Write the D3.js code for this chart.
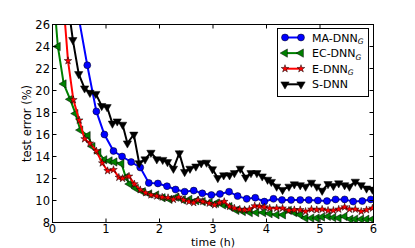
<!DOCTYPE html>
<html>
<head>
<meta charset="utf-8">
<script src="https://cdn.jsdelivr.net/npm/d3@7"></script>
<style>
  body { margin: 0; background: #fff; }
  text { font-family: "DejaVu Sans", sans-serif; }
</style>
</head>
<body>
<div id="chart"></div>
<script>
// datos (tiempo en horas, error en %)
const maT = [0.48, 0.65, 0.82, 0.97, 1.14, 1.30, 1.47, 1.64, 1.80, 1.97, 2.14, 2.30, 2.47, 2.64, 2.80, 2.97, 3.13, 3.30, 3.46, 3.63, 3.79, 3.96, 4.13, 4.29, 4.46, 4.63, 4.79, 4.96, 5.13, 5.29, 5.46, 5.62, 5.79, 5.95];
const maV = [26.9, 22.3, 18.1, 16.0, 14.5, 14.0, 13.5, 13.0, 11.6, 11.55, 11.3, 11.0, 10.8, 10.9, 10.65, 10.5, 10.6, 10.8, 10.4, 10.15, 10.25, 9.9, 10.15, 10.05, 10.05, 10.05, 10.05, 10.0, 9.95, 10.1, 10.1, 9.9, 9.95, 10.1];

const ecT = [0.05, 0.10, 0.21, 0.33, 0.43, 0.52, 0.66, 0.75, 0.86, 0.97, 1.07, 1.16, 1.29, 1.37, 1.44, 1.56, 1.69, 1.81, 1.94, 2.06, 2.19, 2.31, 2.44, 2.56, 2.69, 2.81, 2.94, 3.06, 3.19, 3.31, 3.44, 3.56, 3.69, 3.81, 3.94, 4.06, 4.19, 4.31, 4.42, 4.52, 4.63, 4.73, 4.84, 4.94, 5.04, 5.15, 5.25, 5.35, 5.46, 5.57, 5.66, 5.77, 5.87, 5.98];
const ecV = [27.0, 24.0, 20.6, 19.2, 17.9, 16.4, 15.9, 14.9, 14.35, 13.7, 13.6, 13.5, 13.35, 12.1, 11.5, 11.1, 10.8, 10.6, 10.5, 10.25, 10.1, 10.3, 10.05, 10.1, 9.98, 9.9, 9.8, 9.75, 9.6, 9.45, 9.1, 9.0, 8.9, 8.9, 8.9, 8.8, 8.7, 8.7, 9.1, 8.9, 8.7, 8.4, 8.4, 8.4, 8.5, 8.55, 8.45, 8.4, 8.55, 8.3, 8.3, 8.3, 8.3, 8.3];

const eT = [0.22, 0.29, 0.39, 0.50, 0.60, 0.70, 0.82, 0.93, 1.03, 1.14, 1.24, 1.31, 1.43, 1.53, 1.64, 1.74, 1.84, 1.95, 2.05, 2.16, 2.26, 2.36, 2.45, 2.55, 2.64, 2.72, 2.81, 2.93, 3.03, 3.12, 3.21, 3.31, 3.40, 3.50, 3.59, 3.68, 3.78, 3.87, 3.96, 4.06, 4.19, 4.30, 4.42, 4.52, 4.63, 4.73, 4.84, 4.94, 5.04, 5.15, 5.25, 5.35, 5.46, 5.55, 5.66, 5.77, 5.87, 5.98];
const eV = [27.0, 22.7, 19.15, 17.3, 15.6, 15.2, 14.5, 13.4, 12.7, 12.8, 12.1, 12.0, 12.2, 11.5, 10.97, 10.7, 10.5, 10.4, 10.3, 10.25, 10.1, 10.3, 10.05, 9.9, 9.8, 10.05, 9.9, 9.75, 9.6, 9.8, 9.9, 9.45, 9.3, 9.2, 9.15, 9.2, 9.5, 9.45, 9.4, 9.3, 9.3, 9.3, 9.1, 9.15, 9.15, 9.0, 9.2, 9.15, 9.2, 9.1, 9.1, 9.2, 9.4, 9.2, 9.2, 9.0, 9.15, 9.3];

const sT = [0.30, 0.38, 0.49, 0.60, 0.70, 0.81, 0.92, 1.02, 1.12, 1.21, 1.31, 1.40, 1.52, 1.62, 1.73, 1.84, 1.95, 2.06, 2.15, 2.26, 2.37, 2.47, 2.57, 2.68, 2.78, 2.88, 2.99, 3.09, 3.20, 3.31, 3.40, 3.51, 3.61, 3.71, 3.82, 3.92, 4.02, 4.09, 4.19, 4.30, 4.42, 4.52, 4.63, 4.73, 4.84, 4.94, 5.04, 5.15, 5.25, 5.35, 5.46, 5.55, 5.66, 5.77, 5.87, 5.98];
const sV = [27.5, 24.6, 21.5, 20.2, 19.8, 19.7, 18.6, 18.5, 17.0, 17.2, 16.9, 15.2, 16.0, 13.4, 13.75, 14.35, 13.75, 13.7, 13.5, 12.9, 14.3, 12.6, 12.9, 13.1, 13.4, 13.45, 12.85, 12.05, 12.3, 12.3, 12.5, 12.9, 12.1, 12.5, 12.5, 12.2, 11.9, 11.7, 11.27, 10.97, 11.27, 11.48, 11.4, 11.27, 11.63, 11.27, 10.9, 11.5, 11.33, 11.57, 11.4, 11.27, 11.72, 11.4, 11.1, 11.0];

const xTicks = [0, 1, 2, 3, 4, 5, 6];
const yTicks = [8, 10, 12, 14, 16, 18, 20, 22, 24, 26];

const series = [
  { name: "MA-DNN", sub: "G", t: maT, v: maV, color: "#0000ff", shape: "circle" },
  { name: "EC-DNN", sub: "G", t: ecT, v: ecV, color: "#008000", shape: "left" },
  { name: "E-DNN", sub: "G", t: eT, v: eV, color: "#ff0000", shape: "star" },
  { name: "S-DNN", sub: "", t: sT, v: sV, color: "#000000", shape: "down" }
];

const width = 415, height = 248;
const pLeft = 52.5, pRight = 373.5, pTop = 24.5, pBottom = 222.5;

const svg = d3.select("#chart").append("svg")
  .attr("width", width)
  .attr("height", height);

const x = d3.scaleLinear().domain([0, 6]).range([pLeft, pRight]);
const y = d3.scaleLinear().domain([8, 26]).range([pBottom, pTop]);

svg.append("clipPath").attr("id", "clip")
  .append("rect")
  .attr("x", pLeft).attr("y", pTop)
  .attr("width", pRight - pLeft).attr("height", pBottom - pTop);

// simbolos de cada serie
function markerPath(shape) {
  if (shape === "circle") return d3.symbol(d3.symbolCircle, 38)();
  if (shape === "star") return d3.symbol(d3.symbolStar, 18)();
  return d3.symbol(d3.symbolTriangle, 30)();
}
function markerRot(shape) {
  if (shape === "left") return -90;
  if (shape === "down") return 180;
  return 0;
}

const plot = svg.append("g").attr("clip-path", "url(#clip)");

const line = d3.line().x(d => x(d[0])).y(d => y(d[1]));

series.forEach(s => {
  const pts = s.t.map((t, i) => [t, s.v[i]]);
  plot.append("path")
    .datum(pts)
    .attr("fill", "none")
    .attr("stroke", s.color)
    .attr("stroke-width", 2)
    .attr("d", line);
  plot.selectAll(null)
    .data(pts)
    .enter()
    .append("path")
    .attr("d", markerPath(s.shape))
    .attr("transform", d => `translate(${x(d[0])},${y(d[1])}) rotate(${markerRot(s.shape)})`)
    .attr("fill", s.color)
    .attr("stroke", "#000")
    .attr("stroke-width", 0.5);
});

// ejes con ticks hacia dentro en los cuatro lados
const axes = svg.append("g");
xTicks.forEach(t => {
  axes.append("line").attr("x1", x(t)).attr("x2", x(t)).attr("y1", pBottom).attr("y2", pBottom - 4).attr("stroke", "#000");
  axes.append("line").attr("x1", x(t)).attr("x2", x(t)).attr("y1", pTop).attr("y2", pTop + 4).attr("stroke", "#000");
  axes.append("text")
    .attr("x", x(t)).attr("y", pBottom + 10.5)
    .attr("text-anchor", "middle")
    .style("font-size", "11.5px")
    .text(t);
});
yTicks.forEach(v => {
  axes.append("line").attr("x1", pLeft).attr("x2", pLeft + 4).attr("y1", y(v)).attr("y2", y(v)).attr("stroke", "#000");
  axes.append("line").attr("x1", pRight).attr("x2", pRight - 4).attr("y1", y(v)).attr("y2", y(v)).attr("stroke", "#000");
  axes.append("text")
    .attr("x", pLeft - 2.5).attr("y", y(v) + 4)
    .attr("text-anchor", "end")
    .style("font-size", "11.5px")
    .text(v);
});

svg.append("rect")
  .attr("x", pLeft).attr("y", pTop)
  .attr("width", pRight - pLeft).attr("height", pBottom - pTop)
  .attr("fill", "none")
  .attr("stroke", "#000")
  .attr("stroke-width", 1);

svg.append("text")
  .attr("x", (pLeft + pRight) / 2).attr("y", 245.5)
  .attr("text-anchor", "middle")
  .style("font-size", "11px")
  .text("time (h)");

svg.append("text")
  .attr("transform", `translate(31,${(pTop + pBottom) / 2}) rotate(-90)`)
  .attr("text-anchor", "middle")
  .style("font-size", "11.5px")
  .text("test error (%)");

// leyenda
const legend = svg.append("g");
legend.append("rect")
  .attr("x", 277.5).attr("y", 28.5)
  .attr("width", 91).attr("height", 68)
  .attr("fill", "#fff")
  .attr("stroke", "#000")
  .attr("stroke-width", 1);

series.forEach((s, i) => {
  const ly = 37.5 + i * 15.6;
  const g = legend.append("g");
  g.append("line")
    .attr("x1", 285).attr("x2", 301)
    .attr("y1", ly).attr("y2", ly)
    .attr("stroke", s.color).attr("stroke-width", 2);
  [285, 301].forEach(mx => {
    g.append("path")
      .attr("d", markerPath(s.shape))
      .attr("transform", `translate(${mx},${ly}) rotate(${markerRot(s.shape)})`)
      .attr("fill", s.color)
      .attr("stroke", "#000")
      .attr("stroke-width", 0.5);
  });
  const txt = g.append("text")
    .attr("x", 312).attr("y", ly + 4)
    .style("font-size", "11px")
    .text(s.name);
  if (s.sub) {
    txt.append("tspan")
      .attr("dy", 2.5)
      .style("font-size", "7.5px")
      .style("font-style", "italic")
      .text(s.sub);
  }
});
</script>
</body>
</html>
